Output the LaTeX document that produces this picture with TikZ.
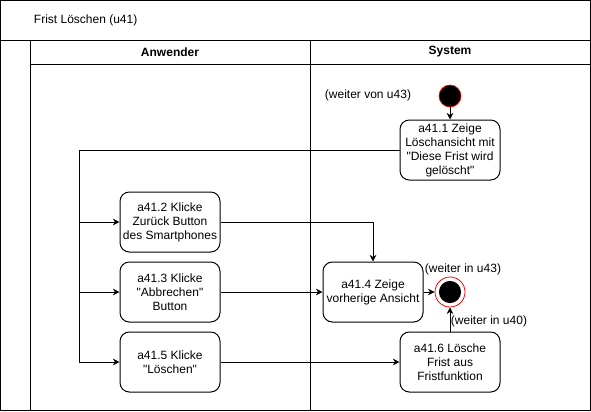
\documentclass[tikz,border=0pt]{standalone}
\usepackage{fontspec}
\setmainfont{Liberation Sans}
\usepackage{tikz}
\usetikzlibrary{
  arrows.meta,
  positioning,
  calc,
}

\begin{document}
\begin{tikzpicture}[
  x=0.75pt, y=-0.75pt,
  line width=0.75pt,
  font=\fontsize{9}{10.5}\selectfont,
  action/.style={
    draw=black,
    line width=0.75pt,
    fill=white,
    rounded corners=7pt,
    minimum width=75pt,
    minimum height=45pt,
    align=center,
    inner sep=2pt,
  },
  startstate/.style={
    circle,
    draw=red,
    fill=black,
    line width=0.5pt,
    minimum size=16.5pt,
    inner sep=0pt,
  },
  endstate/.style={
    circle,
    draw=red,
    fill=white,
    line width=0.6pt,
    minimum size=22.5pt,
    inner sep=0pt,
    path picture={\fill[black] (path picture bounding box.center) circle (8.3pt);},
  },
  arr/.style={
    -{Stealth[length=5pt, width=5pt]},
    line width=0.75pt,
    draw=black,
  },
  lanetitle/.style={
    font=\fontsize{9}{10.5}\selectfont\bfseries,
  },
  note/.style={
    inner sep=1pt,
  },
]

\useasboundingbox (0,0) rectangle (591,411);

% =============================================================================
% Frame and swimlanes
% =============================================================================
\draw (0.5,0.5) rectangle (590,410);
\draw (0.5,40) -- (590,40);
\draw (30,40) -- (30,410);
\draw (30,64) -- (590,64);
\draw (310,40) -- (310,410);

\node[anchor=west] (title) at (29,20) {Frist Löschen (u41)};
\node[lanetitle] (laneuser) at (170,52) {Anwender};
\node[lanetitle] (lanesys) at (450,52) {System};

% =============================================================================
% System lane
% =============================================================================
\node[startstate] (start) at (450,96) {};
\node[note] (fromu43) at (368,95) {(weiter von u43)};

\node[action] (a411) at (450,150) {a41.1 Zeige\\Löschansicht mit\\\textquotedbl Diese Frist wird\\gelöscht\textquotedbl};
\node[action] (a414) at (373,292) {a41.4 Zeige\\vorherige Ansicht};
\node[endstate] (final) at (450,292) {};
\node[note] (tou43) at (463,269) {(weiter in u43)};
\node[action] (a416) at (450,362) {a41.6 Lösche\\Frist aus\\Fristfunktion};
\node[note] (tou40) at (489,321) {(weiter in u40)};

% =============================================================================
% Anwender lane
% =============================================================================
\node[action] (a412) at (170,222) {a41.2 Klicke\\Zurück Button\\des Smartphones};
\node[action] (a413) at (170,292) {a41.3 Klicke\\\textquotedbl Abbrechen\textquotedbl\\Button};
\node[action] (a415) at (170,362) {a41.5 Klicke\\\textquotedbl Löschen\textquotedbl};

% --- connectors ---
\draw[arr] (start) -- (a411);
\draw[arr] (a411.west) -| ($(a412.west)+(-40,0)$) -- (a412.west);
\draw[arr] (a411.west) -| ($(a413.west)+(-40,0)$) -- (a413.west);
\draw[arr] (a411.west) -| ($(a415.west)+(-40,0)$) -- (a415.west);
\draw[arr] (a412.east) -| (a414.north);
\draw[arr] (a413) -- (a414);
\draw[arr] (a414) -- (final);
\draw[arr] (a415) -- (a416);
\draw[arr] (a416) -- (final);

\end{tikzpicture}
\end{document}
